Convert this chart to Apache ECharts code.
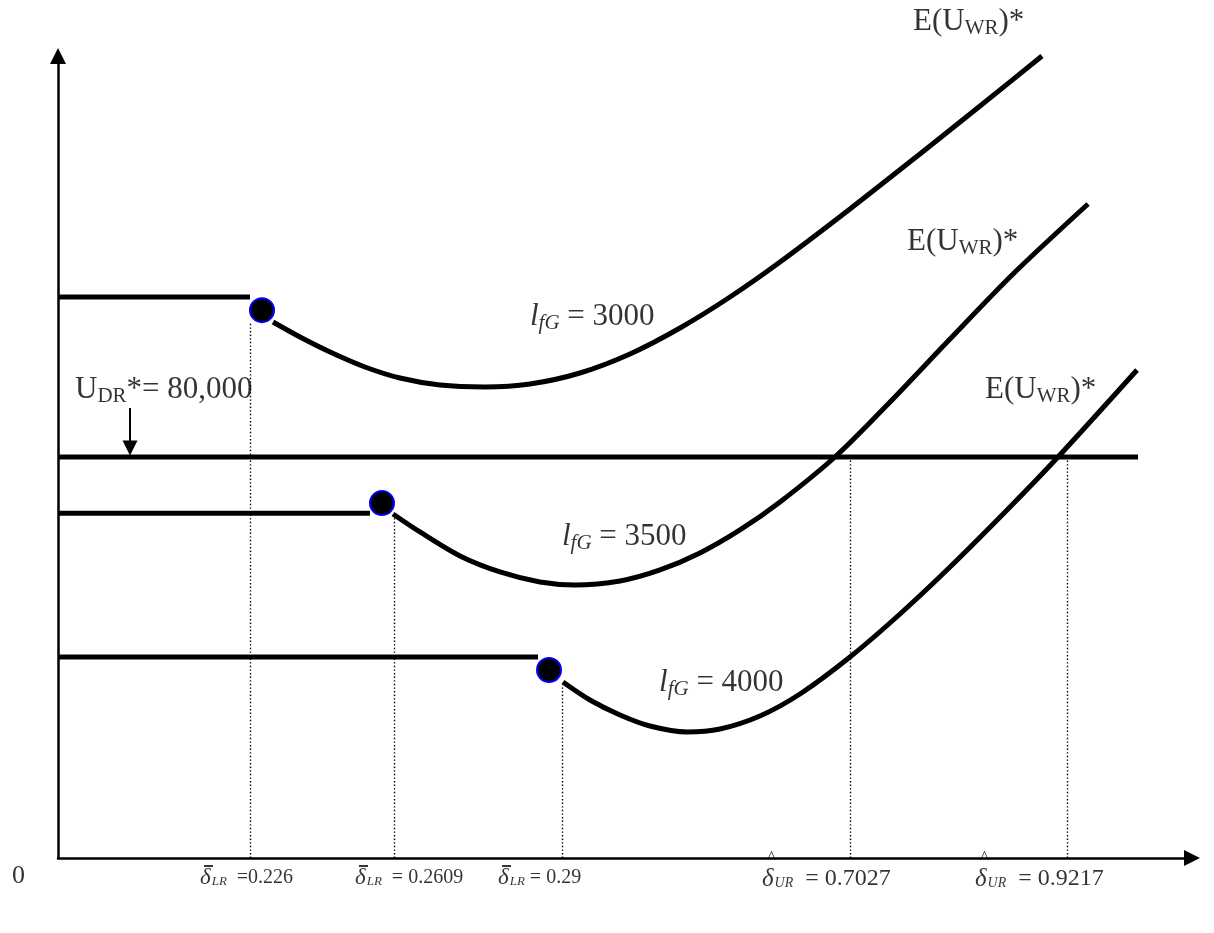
<!DOCTYPE html>
<html>
<head>
<meta charset="utf-8">
<script src="https://cdn.jsdelivr.net/npm/echarts@6/dist/echarts.min.js"></script>
<style>
  html, body { margin: 0; padding: 0; background: #fff; }
  #chart { width: 1214px; height: 933px; }
</style>
</head>
<body>
<div id="chart"></div>
<script>
// Schematic diagram of E(U_WR)* against delta for three values of l_fG.
// Units are schematic: x runs 0..100, y runs 0..160 (thousands).

const U_DR = 80;                       // U_DR* = 80,000
const lfGValues = ['3000', '3500', '4000'];

// flat part of each schedule (from the y axis to the kink), and its level
const flatEnd   = [16.93, 27.51, 42.33];
const flatLevel = [111.9, 68.8, 40.1];

// kink points (drawn as dots)
const kinkX = [17.99, 28.57, 43.30];
const kinkY = [109.3, 70.8, 37.5];

// E(U_WR)* curves beyond the kink
const curve3000X = [18.96, 21.34, 23.99, 27.07, 30.16, 33.69, 37.65, 41.62, 46.03, 50.44, 54.85, 59.26, 63.67, 69.84, 76.01, 81.31, 86.77];
const curve3000Y = [106.93, 103.94, 100.95, 97.96, 95.76, 94.36, 93.97, 94.56, 96.76, 100.55, 105.74, 111.92, 118.90, 129.48, 140.45, 150.02, 160.0];

const curve3500X = [29.54, 31.92, 35.45, 38.98, 42.50, 45.59, 49.56, 53.09, 56.61, 60.14, 63.67, 68.61, 73.37, 78.66, 84.22, 90.83];
const curve3500Y = [68.63, 65.04, 60.25, 57.06, 55.06, 54.46, 55.26, 57.46, 60.85, 65.44, 71.02, 80.20, 90.97, 103.54, 116.51, 130.47];

const curve4000X = [44.53, 46.91, 49.56, 52.20, 55.47, 58.38, 61.90, 65.43, 69.84, 74.25, 78.66, 83.95, 88.18, 95.15];
const curve4000Y = [35.11, 31.52, 28.53, 26.33, 25.14, 25.74, 28.33, 32.72, 40.10, 48.68, 58.05, 70.02, 80.0, 97.36];

const udrLineEnd = 95.24;

// critical delta values and where they sit on the schematic axis
const lowerDeltaLabels = ['  =0.226', '  = 0.2609', ' = 0.29'];
const lowerDeltaX      = [16.93, 29.63, 44.44];
const lowerDeltaTop    = [107.0, 68.0, 34.5];
const upperDeltaLabels = ['  = 0.7027', '  = 0.9217'];
const upperDeltaX      = [69.84, 88.98];
const upperDeltaTop    = [80.0, 80.0];

// annotation anchors (left edge, vertical middle of the text)
const lowerLabelX = [12.52, 26.19, 38.80];
const lowerLabelY = -3.79;
const upperLabelX = [62.08, 80.86];
const upperLabelY = -3.0;
const eLabelPos   = [[75.40, 166.8], [74.87, 122.9], [81.75, 93.4]];
const lLabelPos   = [[41.62, 107.9], [44.44, 64.0], [53.00, 34.9]];
const udrLabelPos = [1.50, 93.4];
const udrArrow    = [[6.35, 89.8], [6.35, 81.8]];
const originLabelPos = [-4.06, -3.6];

const zip = (xs, ys) => xs.map((x, i) => [x, ys[i]]);

const SERIF = '"Liberation Serif", "Times New Roman", serif';
const thick = { color: '#000', width: 5 };

const richBase = {
  m:   { fontFamily: SERIF, fontSize: 31, color: '#000', lineHeight: 34 },
  s:   { fontFamily: SERIF, fontSize: 21, color: '#000', lineHeight: 21, padding: [13, 0, 0, 0] },
  li:  { fontFamily: SERIF, fontSize: 31, fontStyle: 'italic', color: '#000', lineHeight: 34 },
  si:  { fontFamily: SERIF, fontSize: 21, fontStyle: 'italic', color: '#000', lineHeight: 21, padding: [13, 0, 0, 0] },
  d:   { fontFamily: SERIF, fontSize: 23, fontStyle: 'italic', color: '#000', lineHeight: 22 },
  ds:  { fontFamily: SERIF, fontSize: 13, fontStyle: 'italic', color: '#000', lineHeight: 13, padding: [8, 0, 0, 1] },
  v:   { fontFamily: SERIF, fontSize: 20, color: '#000', lineHeight: 22 },
  D:   { fontFamily: SERIF, fontSize: 25, fontStyle: 'italic', color: '#000', lineHeight: 24 },
  Ds:  { fontFamily: SERIF, fontSize: 14, fontStyle: 'italic', color: '#000', lineHeight: 14, padding: [9, 0, 0, 1] },
  V:   { fontFamily: SERIF, fontSize: 24, color: '#000', lineHeight: 24 },
  sp:  { width: 4, lineHeight: 2, fontSize: 2 },
  bar: { width: 9, lineHeight: 2, fontSize: 2, backgroundColor: '#000' },
  hat: { fontFamily: SERIF, fontSize: 19, color: '#000', lineHeight: 12, padding: [0, 0, 5, 5] },
  o:   { fontFamily: SERIF, fontSize: 26, color: '#000', lineHeight: 28 }
};

function textSeries(points, formatter) {
  return {
    type: 'scatter',
    symbolSize: 0,
    clip: false,
    silent: true,
    data: points,
    label: {
      show: true,
      position: [0, 0],
      align: 'left',
      verticalAlign: 'middle',
      formatter: (p) => formatter(p.dataIndex),
      rich: richBase
    },
    z: 10
  };
}

const series = [];

// flat segments
flatEnd.forEach((xe, i) => {
  series.push({
    type: 'line', symbol: 'none', silent: true,
    data: [[0, flatLevel[i]], [xe, flatLevel[i]]],
    lineStyle: thick
  });
});

// curves
[[curve3000X, curve3000Y], [curve3500X, curve3500Y], [curve4000X, curve4000Y]].forEach(([xs, ys]) => {
  series.push({
    type: 'line', symbol: 'none', silent: true, smooth: 0.3,
    data: zip(xs, ys),
    lineStyle: thick
  });
});

// U_DR* horizontal
series.push({
  type: 'line', symbol: 'none', silent: true,
  data: [[0, U_DR], [udrLineEnd, U_DR]],
  lineStyle: thick
});

// dotted drop lines
const dropX = lowerDeltaX.concat(upperDeltaX);
const dropTop = lowerDeltaTop.concat(upperDeltaTop);
series.push({
  type: 'lines', coordinateSystem: 'cartesian2d', silent: true,
  data: dropX.map((x, i) => ({ coords: [[x, 0], [x, dropTop[i]]] })),
  lineStyle: { color: '#000', width: 1.4, type: [1.4, 2.2], opacity: 1 },
  z: 1
});

// arrow pointing at the U_DR* line
series.push({
  type: 'lines', coordinateSystem: 'cartesian2d', silent: true,
  data: [{ coords: udrArrow }],
  symbol: ['none', 'triangle'],
  symbolSize: [15, 15],
  lineStyle: { color: '#000', width: 2, opacity: 1 },
  z: 5
});

// kink dots
series.push({
  type: 'scatter', silent: true,
  data: zip(kinkX, kinkY),
  symbolSize: 24,
  itemStyle: { color: '#000', borderColor: '#0000ff', borderWidth: 2, opacity: 1 },
  z: 6
});

// E(U_WR)* labels
series.push(textSeries(eLabelPos, () => '{m|E(U}{s|WR}{m|)*}'));

// l_fG labels
series.push(textSeries(lLabelPos, (i) => '{li|l}{si|fG}{m| = ' + lfGValues[i] + '}'));

// U_DR* label
series.push(textSeries([udrLabelPos], () => '{m|U}{s|DR}{m|*= 80,000}'));

// origin
series.push(textSeries([originLabelPos], () => '{o|0}'));

// lower critical deltas (barred)
series.push(textSeries(lowerLabelX.map(x => [x, lowerLabelY]), (i) =>
  '{sp| }{bar| }\n{d|δ}{ds|LR}{v|' + lowerDeltaLabels[i] + '}'));

// upper critical deltas (hatted)
series.push(textSeries(upperLabelX.map(x => [x, upperLabelY]), (i) =>
  '{hat|^}\n{D|δ}{Ds|UR}{V|' + upperDeltaLabels[i] + '}'));

const chart = echarts.init(document.getElementById('chart'), null, { renderer: 'canvas' });
chart.setOption({
  animation: false,
  backgroundColor: '#fff',
  grid: { left: 58, right: 22, top: 56, bottom: 75, containLabel: false, outerBoundsMode: 'none' },
  xAxis: {
    type: 'value', min: 0, max: 100,
    axisLine: { show: true, onZero: false, symbol: ['none', 'triangle'], symbolSize: [16, 16], lineStyle: { color: '#000', width: 2.5 } },
    axisTick: { show: false }, axisLabel: { show: false }, splitLine: { show: false }
  },
  yAxis: {
    type: 'value', min: 0, max: 160,
    axisLine: { show: true, onZero: false, symbol: ['none', 'triangle'], symbolSize: [16, 16], lineStyle: { color: '#000', width: 2.5 } },
    axisTick: { show: false }, axisLabel: { show: false }, splitLine: { show: false }
  },
  series
});
</script>
</body>
</html>
